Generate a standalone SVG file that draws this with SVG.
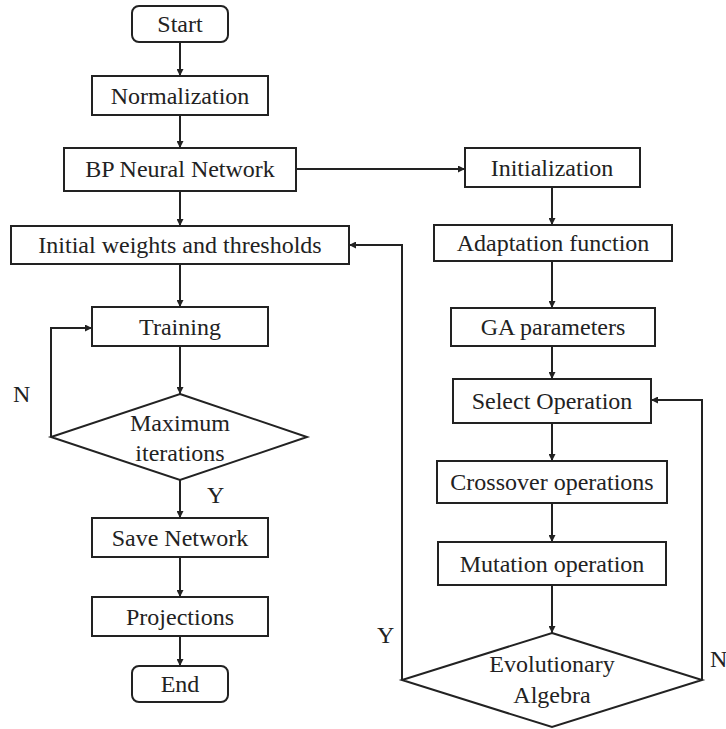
<svg xmlns="http://www.w3.org/2000/svg" width="726" height="729" viewBox="0 0 726 729">
<style>
.box{fill:#fff;stroke:#222;stroke-width:2}
.t{fill:#222;text-anchor:middle}
.l{fill:#222}
.c{fill:none;stroke:#222;stroke-width:2;marker-end:url(#ah)}
</style>
<defs>
<marker id="ah" viewBox="0 0 10 10" refX="10" refY="5" markerWidth="9" markerHeight="7" markerUnits="userSpaceOnUse" orient="auto">
<path d="M0,0 L10,5 L0,10 Z" fill="#222"/>
</marker>
</defs>
<rect width="726" height="729" fill="#fff"/>
<g id="connectors">
<path class="c" d="M180,42 V76"/>
<path class="c" d="M180,115 V148"/>
<path class="c" d="M180,191 V226"/>
<path class="c" d="M296,169 H465"/>
<path class="c" d="M180,264 V307"/>
<path class="c" d="M180,346 V394"/>
<path class="c" d="M51,437 V328 H92"/>
<path class="c" d="M180,480 V518"/>
<path class="c" d="M180,557 V597"/>
<path class="c" d="M180,636 V666"/>
<path class="c" d="M552,187 V225"/>
<path class="c" d="M552,261 V308"/>
<path class="c" d="M552,346 V379"/>
<path class="c" d="M552,423 V461"/>
<path class="c" d="M552,503 V542"/>
<path class="c" d="M552,585 V633"/>
<path class="c" d="M402,680 V245 H349"/>
<path class="c" d="M702,680 V400 H651"/>
</g>
<g font-family="Liberation Serif, Times New Roman, serif" font-size="24">
<g id="start"><rect class="box" x="132" y="6" width="96" height="36" rx="7"/><text class="t" x="180" y="32">Start</text></g>
<g id="normalization"><rect class="box" x="92" y="76" width="176" height="39"/><text class="t" x="180" y="104">Normalization</text></g>
<g id="bp"><rect class="box" x="64" y="148" width="232" height="43"/><text class="t" x="180" y="177">BP Neural Network</text></g>
<g id="initial"><rect class="box" x="11" y="226" width="338" height="38"/><text class="t" x="180" y="253">Initial weights and thresholds</text></g>
<g id="training"><rect class="box" x="92" y="307" width="176" height="39"/><text class="t" x="180" y="335">Training</text></g>
<g id="maxiter"><polygon class="box" points="180,394 307,437 180,480 51,437"/><text class="t" x="180" y="431">Maximum</text><text class="t" x="180" y="461">iterations</text></g>
<g id="save"><rect class="box" x="92" y="518" width="176" height="39"/><text class="t" x="180" y="546">Save Network</text></g>
<g id="projections"><rect class="box" x="92" y="597" width="176" height="39"/><text class="t" x="180" y="625">Projections</text></g>
<g id="end"><rect class="box" x="132" y="666" width="96" height="36" rx="7"/><text class="t" x="180" y="692">End</text></g>
<g id="initialization"><rect class="box" x="465" y="148" width="175" height="39"/><text class="t" x="552" y="176">Initialization</text></g>
<g id="adaptation"><rect class="box" x="434" y="225" width="238" height="36"/><text class="t" x="553" y="251">Adaptation function</text></g>
<g id="ga"><rect class="box" x="451" y="308" width="204" height="38"/><text class="t" x="553" y="335">GA parameters</text></g>
<g id="select"><rect class="box" x="453" y="379" width="198" height="44"/><text class="t" x="552" y="409">Select Operation</text></g>
<g id="crossover"><rect class="box" x="437" y="461" width="230" height="42"/><text class="t" x="552" y="490">Crossover operations</text></g>
<g id="mutation"><rect class="box" x="438" y="542" width="228" height="43"/><text class="t" x="552" y="572">Mutation operation</text></g>
<g id="evolutionary"><polygon class="box" points="552,633 702,680 552,727 402,680"/><text class="t" x="552" y="672">Evolutionary</text><text class="t" x="552" y="703">Algebra</text></g>
<g id="labels">
<text class="l" x="13" y="402">N</text>
<text class="l" x="207" y="503">Y</text>
<text class="l" x="377" y="643">Y</text>
<text class="l" x="710" y="667">N</text>
</g>
</g>
</svg>
